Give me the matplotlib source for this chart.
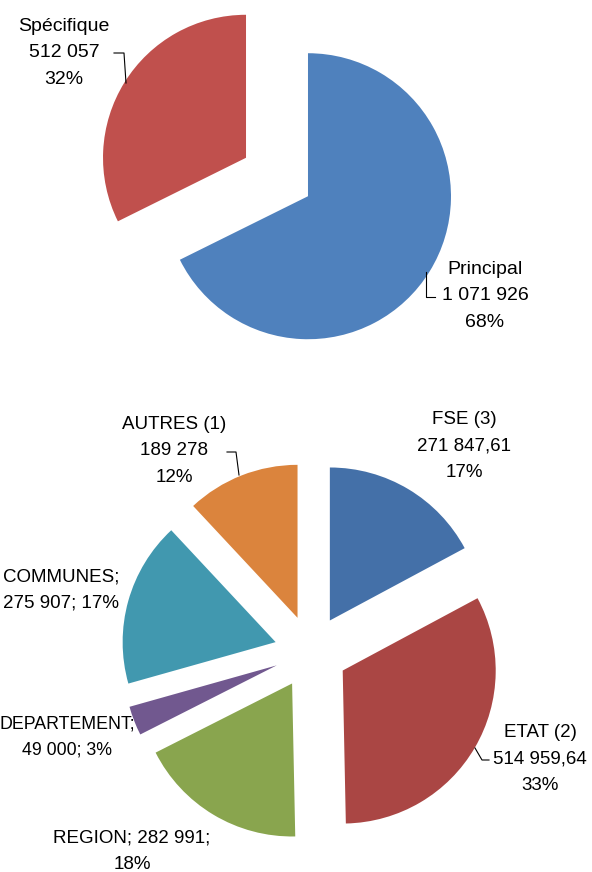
import matplotlib.pyplot as plt

# Données graphique du haut
labels_haut = ['Principal', 'Spécifique']
valeurs_haut = [1071926, 512057]
textes_haut = ['Principal\n1 071 926\n68%', 'Spécifique\n512 057\n32%']
couleurs_haut = ['#4F81BD', '#C0504D']

# Données graphique du bas
labels_bas = ['FSE (3)', 'ETAT (2)', 'REGION', 'DEPARTEMENT', 'COMMUNES', 'AUTRES (1)']
valeurs_bas = [271847.61, 514959.64, 282991, 49000, 275907, 189278]
textes_bas = ['FSE (3)\n271 847,61\n17%', 'ETAT (2)\n514 959,64\n33%',
              'REGION; 282 991;\n18%', 'DEPARTEMENT;\n49 000; 3%',
              'COMMUNES;\n275 907; 17%', 'AUTRES (1)\n189 278\n12%']
couleurs_bas = ['#4470A8', '#AA4644', '#89A54E', '#71588F', '#4198AF', '#DB843D']

plt.rcParams['font.family'] = ['Liberation Sans', 'DejaVu Sans']

W, H = 592, 872
fig = plt.figure(figsize=(W / 100, H / 100), dpi=100)
ax = fig.add_axes([0, 0, 1, 1])

def ty(y):
    # coordonnées image -> coordonnées du graphique
    return H - y

# Camembert du haut (explode en unités de données)
r_haut = 143
ax.pie(valeurs_haut, explode=[0.255 * r_haut] * len(valeurs_haut), colors=couleurs_haut,
       startangle=90, counterclock=False, center=(277, ty(177)), radius=r_haut,
       wedgeprops={'linewidth': 0})

# Camembert du bas
r_bas = 153
ax.pie(valeurs_bas, explode=[0.24 * r_bas] * len(valeurs_bas), colors=couleurs_bas,
       startangle=90, counterclock=False, center=(311, ty(652)), radius=r_bas,
       wedgeprops={'linewidth': 0})

# Étiquettes (centre du bloc de texte)
pos_haut = [(485, 296), (64, 53)]
for t, (x, y) in zip(textes_haut, pos_haut):
    ax.text(x, ty(y), t, ha='center', va='center', fontsize=14, linespacing=1.75)

pos_bas = [(464, 446), (540, 759), (132, 851), (67, 737), (61, 590), (174, 451)]
tailles_bas = [13.5, 13.5, 13.5, 12.8, 13.5, 13.5]
for t, (x, y), fs in zip(textes_bas, pos_bas, tailles_bas):
    ax.text(x, ty(y), t, ha='center', va='center', fontsize=fs, linespacing=1.72)

# Traits de rappel
traits = [
    ([114, 124, 126], [53, 53, 83]),
    ([426, 426, 435], [272, 297, 297]),
    ([227, 236, 239], [452, 452, 475]),
    ([475, 482, 489], [748, 760, 760]),
]
for xs, ys in traits:
    ax.plot(xs, [ty(v) for v in ys], color='black', lw=0.8)

ax.set_xlim(0, W)
ax.set_ylim(0, H)
ax.set_aspect('equal')
ax.axis('off')

plt.savefig('out.png', dpi=100)
